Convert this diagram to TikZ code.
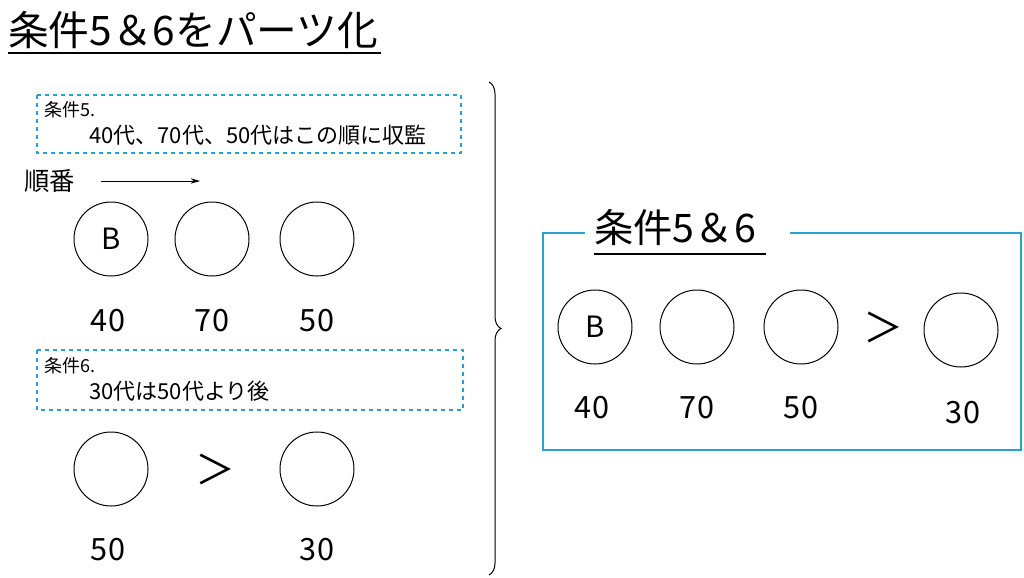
\documentclass[tikz,border=0pt]{standalone}
\usepackage{fontspec}
\setmainfont{Noto Sans CJK JP}
\usetikzlibrary{decorations.pathreplacing,arrows.meta}
\definecolor{boxcyan}{RGB}{38,164,206}
\tikzset{
  slot/.style={draw,circle,line width=0.75pt,minimum size=55.5pt,inner sep=0pt,font=\fontsize{22}{22}\selectfont},
  num/.style={inner sep=0pt,font=\fontsize{23}{23}\selectfont},
  note/.style={anchor=west,inner sep=0pt,font=\fontsize{13.5}{14}\selectfont},
  notetext/.style={anchor=west,inner sep=0pt,font=\fontsize{16.5}{17}\selectfont},
  gtsign/.style={inner sep=0pt,font=\fontsize{30}{30}\selectfont},
  condbox/.style={draw=boxcyan,dashed,line width=0.9pt}
}
\begin{document}
\begin{tikzpicture}[x=0.75pt,y=0.75pt,yscale=-1,xscale=1]
\useasboundingbox (0,0) rectangle (1024,578);

% Title
\node (title) [anchor=west,inner sep=0pt,font=\fontsize{30.5}{30}\selectfont] at (8,30) {条件5＆6をパーツ化};
\draw [line width=0.9pt] (8,53) -- (381,53);

% Condition 5
\draw [condbox] (37,95) rectangle (461,153);
\node (c5) [note] at (44,110) {条件5.};
\node (c5t) [notetext] at (89,135) {40代、70代、50代はこの順に収監};
\node (order) [anchor=west,inner sep=0pt,font=\fontsize{19}{19}\selectfont] at (24,181) {順番};
\coordinate (arrs) at (101,181);
\coordinate (arre) at (200,181);
\draw [-{Stealth[length=7pt,width=4pt]},line width=0.6pt] (arrs) -- (arre);
\node (a1) [slot] at (111,239) {B};
\node (a2) [slot] at (212,239) {};
\node (a3) [slot] at (317,239) {};
\node (n1) [num] at (108,321) {40};
\node (n2) [num] at (212,321) {70};
\node (n3) [num] at (317,321) {50};

% Condition 6
\draw [condbox] (37,350) rectangle (463,410);
\node (c6) [note] at (44,366) {条件6.};
\node (c6t) [notetext] at (89,391) {30代は50代より後};
\node (b1) [slot] at (111,469) {};
\node (bgt) [gtsign] at (215,469) {＞};
\node (b2) [slot] at (317,469) {};
\node (m1) [num] at (108,550) {50};
\node (m2) [num] at (317,550) {30};

% Brace
\draw [decorate,decoration={brace,amplitude=9pt},line width=0.75pt] (489,82) -- (489,575);

% Combined
\draw [boxcyan,line width=1.5pt] (585,233) -- (543,233) -- (543,450) -- (1021,450) -- (1021,233) -- (790,233);
\node (ct) [anchor=west,inner sep=0pt,font=\fontsize{29.5}{29.5}\selectfont] at (594,228) {条件5＆6};
\draw [line width=0.9pt] (594,254) -- (766,254);
\node (r1) [slot] at (595,327) {B};
\node (r2) [slot] at (697,327) {};
\node (r3) [slot] at (801,327) {};
\node (rgt) [gtsign] at (883,327) {＞};
\node (r4) [slot] at (961,330) {};
\node (k1) [num] at (592,408) {40};
\node (k2) [num] at (697,408) {70};
\node (k3) [num] at (801,408) {50};
\node (k4) [num] at (963,413) {30};

\end{tikzpicture}
\end{document}
